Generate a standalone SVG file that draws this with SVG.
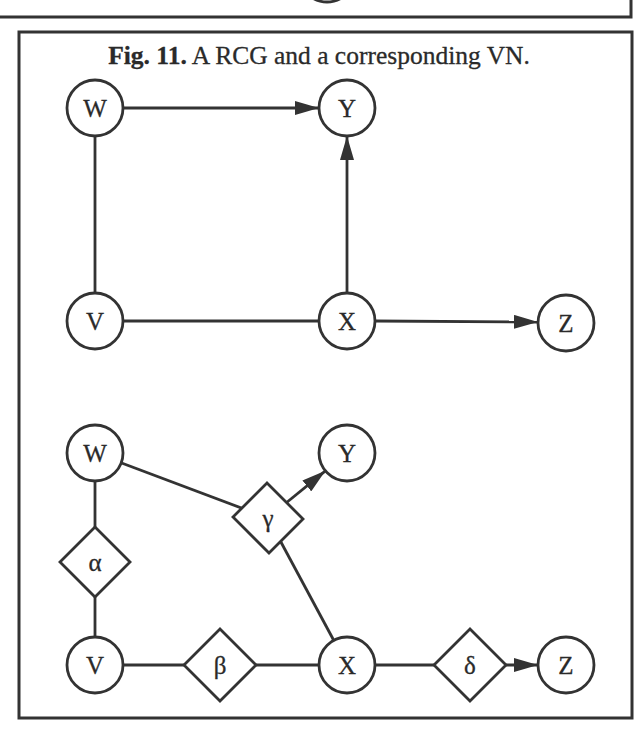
<svg xmlns="http://www.w3.org/2000/svg" width="640" height="741" viewBox="0 0 640 741">
<defs>
<style>
.frame{fill:none;stroke:#333;stroke-width:3}
.edge{fill:none;stroke:#333;stroke-width:2.8}
.node{fill:#fff;stroke:#333;stroke-width:2.8}
.lbl{font-family:"Liberation Serif","Times New Roman",serif;font-size:25px;fill:#2a2a2a;stroke:#2a2a2a;stroke-width:0.3;text-anchor:middle;dominant-baseline:central}
.title{font-family:"Liberation Serif","Times New Roman",serif;font-size:25.5px;fill:#2a2a2a;stroke:#2a2a2a;stroke-width:0.3;text-anchor:middle}
</style>
<marker id="arr" markerUnits="userSpaceOnUse" markerWidth="26" markerHeight="14" refX="24" refY="7" orient="auto">
<path d="M0,0 L24,7 L0,14 z" fill="#333"/>
</marker>
</defs>
<rect width="640" height="741" fill="#fff"/>
<!-- partial previous frame -->
<polyline class="frame" points="0,17 631,17 631,0"/>
<circle class="node" cx="327" cy="-26" r="28"/>
<!-- main frame -->
<rect class="frame" x="19" y="32" width="613" height="686"/>
<text class="title" x="319" y="64"><tspan font-weight="bold">Fig. 11.</tspan> A RCG and a corresponding VN.</text>
<g id="connectors">
<line class="edge" x1="123" y1="108" x2="319" y2="108" marker-end="url(#arr)"/>
<line class="edge" x1="347" y1="293" x2="347" y2="136" marker-end="url(#arr)"/>
<line class="edge" x1="95" y1="136" x2="95" y2="293"/>
<line class="edge" x1="123" y1="321" x2="319" y2="321"/>
<line class="edge" x1="375" y1="321" x2="538" y2="322" marker-end="url(#arr)"/>
<line class="edge" x1="95" y1="453" x2="268" y2="518"/>
<line class="edge" x1="268" y1="518" x2="347" y2="665"/>
<line class="edge" x1="286" y1="503" x2="325.4" y2="470.8" marker-end="url(#arr)"/>
<line class="edge" x1="95" y1="453" x2="95" y2="665"/>
<line class="edge" x1="95" y1="665" x2="470" y2="665"/>
<line class="edge" x1="505" y1="665" x2="538" y2="665" marker-end="url(#arr)"/>
</g>
<g id="top-W"><circle class="node" cx="95" cy="108" r="28"/><text class="lbl" x="95" y="108">W</text></g>
<g id="top-Y"><circle class="node" cx="347" cy="108" r="28"/><text class="lbl" x="347" y="108">Y</text></g>
<g id="top-V"><circle class="node" cx="95" cy="321" r="28"/><text class="lbl" x="95" y="321">V</text></g>
<g id="top-X"><circle class="node" cx="347" cy="321" r="28"/><text class="lbl" x="347" y="321">X</text></g>
<g id="top-Z"><circle class="node" cx="566" cy="323" r="28"/><text class="lbl" x="566" y="323">Z</text></g>
<g id="bot-W"><circle class="node" cx="95" cy="453" r="28"/><text class="lbl" x="95" y="453">W</text></g>
<g id="bot-Y"><circle class="node" cx="347" cy="453" r="28"/><text class="lbl" x="347" y="453">Y</text></g>
<g id="bot-V"><circle class="node" cx="95" cy="665" r="28"/><text class="lbl" x="95" y="665">V</text></g>
<g id="bot-X"><circle class="node" cx="347" cy="665" r="28"/><text class="lbl" x="347" y="665">X</text></g>
<g id="bot-Z"><circle class="node" cx="566" cy="665" r="28"/><text class="lbl" x="566" y="665">Z</text></g>
<g id="alpha"><polygon class="node" points="95,527 130,562 95,597 60,562"/><text class="lbl" x="95" y="562">α</text></g>
<g id="gamma"><polygon class="node" points="267,483 303,519 269,553 233,517"/><text class="lbl" x="268" y="518">γ</text></g>
<g id="beta"><polygon class="node" points="220,629 256,665 220,701 184,665"/><text class="lbl" x="220" y="665">β</text></g>
<g id="delta"><polygon class="node" points="470,629 506,665 470,701 434,665"/><text class="lbl" x="470" y="665">δ</text></g>
</svg>
